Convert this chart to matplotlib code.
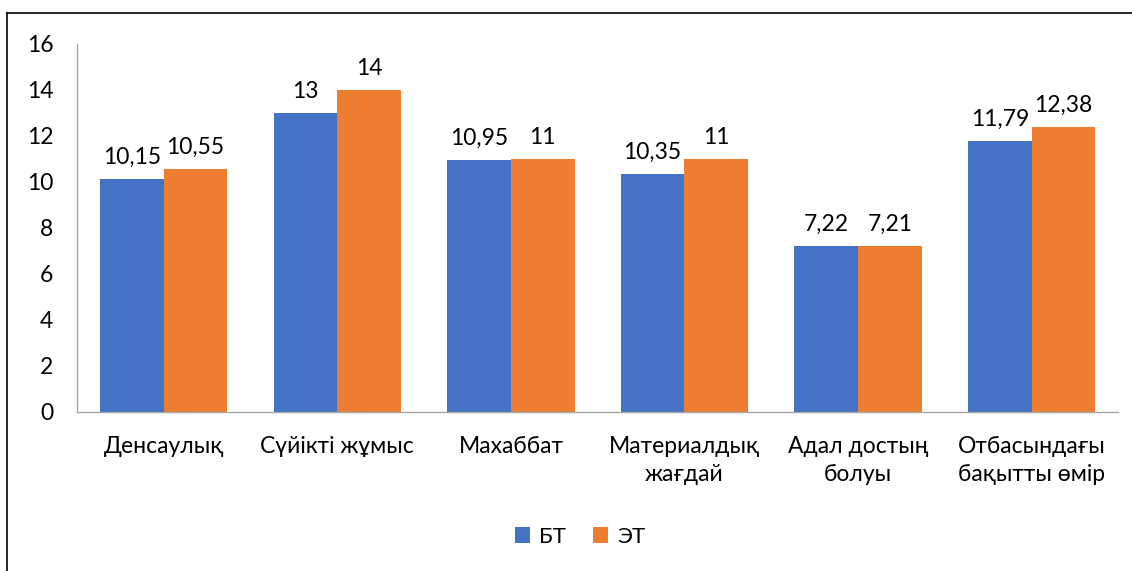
import matplotlib
matplotlib.use("Agg")
import matplotlib.pyplot as plt
import numpy as np
from matplotlib.lines import Line2D

categories = ["Денсаулық", "Сүйікті жұмыс", "Махаббат", "Материалдық\nжағдай", "Адал достың\nболуы", "Отбасындағы\nбақытты өмір"]
bt_values = [10.15, 13, 10.95, 10.35, 7.22, 11.79]
et_values = [10.55, 14, 11, 11, 7.21, 12.38]
series_names = ["БТ", "ЭТ"]
yticks = [0, 2, 4, 6, 8, 10, 12, 14, 16]

blue = "#4472C4"
orange = "#ED7D31"
plt.rcParams['font.family'] = ['Lato', 'DejaVu Sans']
FS = 16.5

fig = plt.figure(figsize=(11.32, 5.71), dpi=100)
ax = fig.add_axes([0.068, 0.2785, 0.920, 0.6445])

x = np.arange(len(categories))
w = 0.367
b1 = ax.bar(x - w/2, bt_values, w, color=blue, label=series_names[0])
b2 = ax.bar(x + w/2, et_values, w, color=orange, label=series_names[1])

def fmt(v):
    return ("%g" % v).replace(".", ",")

for bars, vals in ((b1, bt_values), (b2, et_values)):
    for r, v in zip(bars, vals):
        ax.annotate(fmt(v), (r.get_x() + r.get_width()/2, r.get_height()),
                    xytext=(0, 8), textcoords="offset points",
                    ha="center", va="bottom", fontsize=FS, color="#000000")

ax.set_xlim(-0.5, len(categories) - 0.5)
ax.set_ylim(0, 16)
ax.set_yticks(yticks)
ax.set_yticklabels([str(t) for t in yticks], fontsize=FS)
ax.set_xticks(x)
ax.set_xticklabels(categories, fontsize=FS, linespacing=1.45)
ax.tick_params(axis="both", length=0)
ax.tick_params(axis="y", pad=17)
ax.tick_params(axis="x", pad=17)
for s in ("top", "right"):
    ax.spines[s].set_visible(False)
ax.spines["left"].set_color("#A6A6A6")
ax.spines["bottom"].set_color("#A6A6A6")
ax.spines["left"].set_linewidth(1.0)
ax.spines["bottom"].set_linewidth(1.0)

leg = fig.legend(handles=[b1, b2], labels=series_names, loc="center",
                 bbox_to_anchor=(580/1132, 1 - 537/571), ncol=2, frameon=False,
                 fontsize=16, handlelength=0.7, handleheight=0.7, columnspacing=1.2,
                 handletextpad=0.4)

# outer chart border (left and top visible)
fig.add_artist(Line2D([7/1132, 7/1132], [0, 1 - 13/571], transform=fig.transFigure, color="black", lw=1.2))
fig.add_artist(Line2D([7/1132, 1], [1 - 13/571, 1 - 13/571], transform=fig.transFigure, color="black", lw=1.2))

fig.savefig("out.png", dpi=100)
